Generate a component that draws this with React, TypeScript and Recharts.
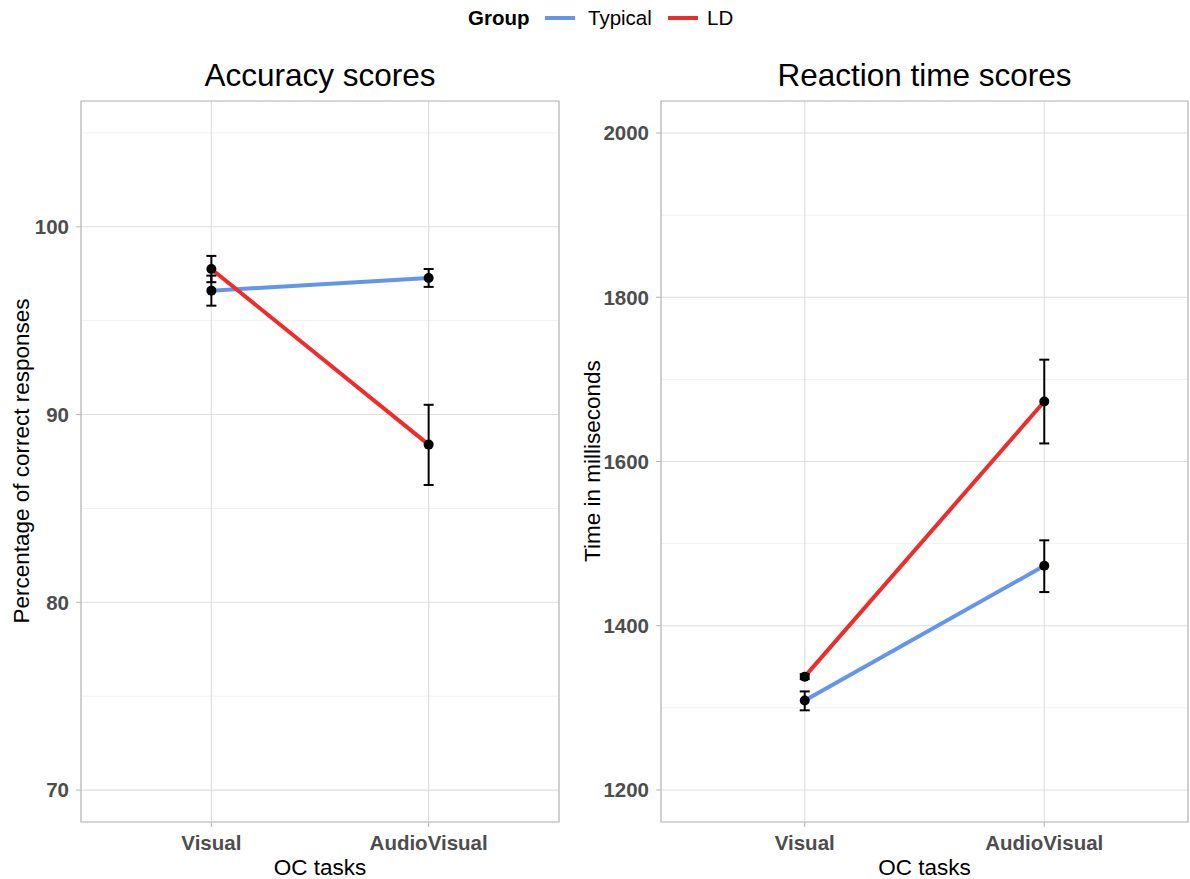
import React from 'react';
import { LineChart, Line, XAxis, YAxis, CartesianGrid, ErrorBar, ReferenceArea } from 'recharts';

const tasks = ['Visual', 'AudioVisual'];

const accTypicalMean = [96.6, 97.27];
const accTypicalLow = [95.8, 96.8];
const accTypicalHigh = [97.4, 97.75];
const accLdMean = [97.75, 88.4];
const accLdLow = [97.05, 86.25];
const accLdHigh = [98.45, 90.52];

const rtTypicalMean = [1309, 1473];
const rtTypicalLow = [1297, 1441];
const rtTypicalHigh = [1320, 1504];
const rtLdMean = [1338, 1673];
const rtLdLow = [1335, 1622];
const rtLdHigh = [1341, 1724];

const accMajorTicks = [70, 80, 90, 100];
const accMinorTicks = [75, 85, 95, 105];
const accDomain = [68.3, 106.7];

const rtMajorTicks = [1200, 1400, 1600, 1800, 2000];
const rtMinorTicks = [1300, 1500, 1700, 1900];
const rtDomain = [1161, 2039];

const TYPICAL = '#6495ED';
const LD = '#EE2C2C';
const FONT = '"Liberation Sans", Arial, Helvetica, sans-serif';

function buildRows(tm: number[], tl: number[], th: number[], lm: number[], ll: number[], lh: number[]) {
  return tasks.map((t, i) => ({
    x: i + 1,
    task: t,
    typ: tm[i],
    typErr: [tm[i] - tl[i], th[i] - tm[i]],
    ld: lm[i],
    ldErr: [lm[i] - ll[i], lh[i] - lm[i]],
  }));
}

const accRows = buildRows(accTypicalMean, accTypicalLow, accTypicalHigh, accLdMean, accLdLow, accLdHigh);
const rtRows = buildRows(rtTypicalMean, rtTypicalLow, rtTypicalHigh, rtLdMean, rtLdLow, rtLdHigh);

type PanelProps = {
  rows: any[];
  width: number;
  marginRight: number;
  domain: number[];
  majors: number[];
  minors: number[];
};

function Panel({ rows, width, marginRight, domain, majors, minors }: PanelProps) {
  const tickStyle = { fill: '#4d4d4d', fontSize: 20.5, fontWeight: 'bold', fontFamily: FONT };
  return (
    <LineChart width={width} height={879} data={rows} margin={{ top: 101, right: marginRight, bottom: 0, left: 0 }}>
      <CartesianGrid stroke="#ececec" strokeWidth={0.8} vertical={false} horizontalValues={minors} />
      <CartesianGrid stroke="#dedede" strokeWidth={1.1} />
      <XAxis
        type="number"
        dataKey="x"
        domain={[0.4, 2.6]}
        ticks={[1, 2]}
        allowDataOverflow
        tickFormatter={(v: number) => tasks[v - 1]}
        tick={tickStyle}
        tickSize={5}
        tickMargin={8}
        tickLine={{ stroke: '#b3b3b3' }}
        axisLine={false}
        height={57}
      />
      <YAxis
        type="number"
        domain={domain}
        ticks={majors}
        allowDataOverflow
        tick={tickStyle}
        tickSize={5}
        tickMargin={7}
        tickLine={{ stroke: '#b3b3b3' }}
        axisLine={false}
        width={81}
      />
      <ReferenceArea x1={0.4} x2={2.6} y1={domain[0]} y2={domain[1]} fill="none" stroke="#bdbdbd" strokeWidth={1.2} ifOverflow="visible" />
      <Line dataKey="typ" stroke={TYPICAL} strokeWidth={4} dot={false} activeDot={false} isAnimationActive={false} />
      <Line dataKey="ld" stroke={LD} strokeWidth={4} dot={false} activeDot={false} isAnimationActive={false} />
      <Line dataKey="typ" stroke="none" dot={{ r: 5, fill: '#000', stroke: 'none' }} activeDot={false} isAnimationActive={false}>
        <ErrorBar dataKey="typErr" width={5} stroke="#000" strokeWidth={2} direction="y" isAnimationActive={false} />
      </Line>
      <Line dataKey="ld" stroke="none" dot={{ r: 5, fill: '#000', stroke: 'none' }} activeDot={false} isAnimationActive={false}>
        <ErrorBar dataKey="ldErr" width={5} stroke="#000" strokeWidth={2} direction="y" isAnimationActive={false} />
      </Line>
    </LineChart>
  );
}

const abs = (o: React.CSSProperties): React.CSSProperties => ({ position: 'absolute', ...o });

export default function App() {
  return (
    <div style={abs({ left: 0, top: 0, width: 1190, height: 879, background: '#fff', fontFamily: FONT, color: '#000', overflow: 'hidden' })}>
      {/* Legend */}
      <div style={abs({ left: 468, top: 6, height: 24, lineHeight: '24px', fontSize: 20.5, fontWeight: 'bold' })}>Group</div>
      <div style={abs({ left: 545, top: 16, width: 30, height: 4, background: TYPICAL })} />
      <div style={abs({ left: 588, top: 6, height: 24, lineHeight: '24px', fontSize: 20.5 })}>Typical</div>
      <div style={abs({ left: 668, top: 16, width: 30, height: 4, background: LD })} />
      <div style={abs({ left: 707, top: 6, height: 24, lineHeight: '24px', fontSize: 20.5 })}>LD</div>

      {/* Titles */}
      <div style={abs({ left: 81, top: 57, width: 478, lineHeight: '36px', fontSize: 31.5, textAlign: 'center' })}>Accuracy scores</div>
      <div style={abs({ left: 661, top: 57, width: 527, lineHeight: '36px', fontSize: 31.5, textAlign: 'center' })}>Reaction time scores</div>

      {/* Charts */}
      <div style={abs({ left: 0, top: 0 })}>
        <Panel rows={accRows} width={580} marginRight={21} domain={accDomain} majors={accMajorTicks} minors={accMinorTicks} />
      </div>
      <div style={abs({ left: 580, top: 0 })}>
        <Panel rows={rtRows} width={610} marginRight={2} domain={rtDomain} majors={rtMajorTicks} minors={rtMinorTicks} />
      </div>

      {/* Axis titles */}
      <div style={abs({ left: 81, top: 854, width: 478, lineHeight: '28px', fontSize: 22.5, textAlign: 'center' })}>OC tasks</div>
      <div style={abs({ left: 661, top: 854, width: 527, lineHeight: '28px', fontSize: 22.5, textAlign: 'center' })}>OC tasks</div>
      <div style={abs({ left: 22 - 250, top: 461 - 14, width: 500, lineHeight: '28px', fontSize: 22.5, textAlign: 'center', transform: 'rotate(-90deg)' })}>Percentage of correct responses</div>
      <div style={abs({ left: 593 - 250, top: 461 - 14, width: 500, lineHeight: '28px', fontSize: 22.5, textAlign: 'center', transform: 'rotate(-90deg)' })}>Time in milliseconds</div>
    </div>
  );
}
